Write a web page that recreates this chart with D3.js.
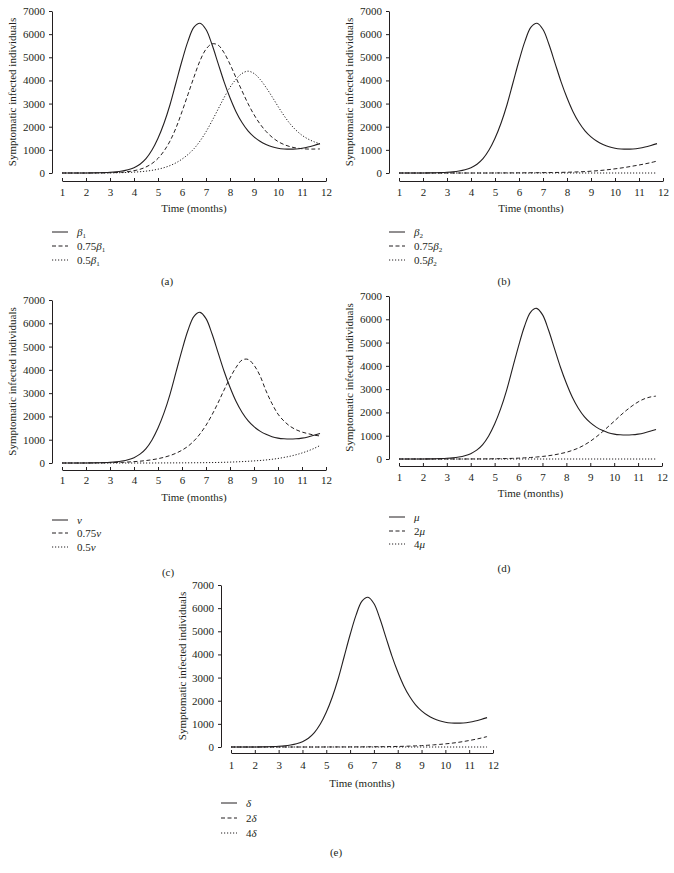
<!DOCTYPE html>
<html><head><meta charset="utf-8">
<script src="https://cdn.jsdelivr.net/npm/d3@7"></script>
<style>
body{margin:0;background:#fff;}
svg text{font-family:"Liberation Serif","Times New Roman",serif !important;fill:#231f20;}
</style></head>
<body>
<svg id="c" width="674" height="873"></svg>
<script>
// ---- data ----
const months = [1,1.25,1.5,1.75,2,2.25,2.5,2.75,3,3.25,3.5,3.75,4,4.25,4.5,4.75,5,5.25,5.5,5.75,6,6.25,6.5,6.75,7,7.25,7.5,7.75,8,8.25,8.5,8.75,9,9.25,9.5,9.75,10,10.25,10.5,10.75,11,11.25,11.5,11.75];
const xTicks = [1,2,3,4,5,6,7,8,9,10,11,12];
const yTicks = [0,1000,2000,3000,4000,5000,6000,7000];
const baseline = [0,0,0,0,2,5,10,18,30,50,85,140,230,380,620,990,1500,2150,2950,3900,4850,5700,6300,6470,6200,5550,4750,3950,3250,2650,2180,1820,1560,1370,1230,1130,1070,1040,1030,1040,1070,1120,1190,1270];
const beta1_075 = [0,0,0,0,0,2,5,8,12,20,35,60,100,160,260,410,630,950,1380,1950,2650,3400,4150,4850,5350,5580,5530,5200,4700,4120,3550,3000,2520,2120,1800,1550,1360,1230,1140,1080,1050,1035,1035,1040];
const beta1_05 = [0,0,0,0,0,0,2,4,6,10,16,25,38,55,80,115,165,230,320,440,600,800,1050,1380,1780,2250,2750,3250,3700,4050,4300,4400,4300,4050,3700,3300,2880,2480,2130,1850,1630,1470,1350,1260];
const beta2_075 = [0,0,0,0,0,0,0,0,0,0,0,0,0,0,0,0,2,3,4,5,6,8,10,12,15,18,22,27,33,40,50,62,78,97,120,148,180,215,255,300,345,395,450,515];
const beta2_05 = [0,0,0,0,0,0,0,0,0,0,0,0,0,0,0,0,0,0,0,0,0,0,0,0,0,0,0,0,0,0,0,0,0,0,0,0,0,0,0,0,0,0,0,0];
const nu_075 = [0,0,0,0,2,4,7,10,15,22,30,42,58,78,105,140,185,245,320,420,550,720,950,1250,1620,2070,2580,3130,3650,4100,4420,4450,4200,3750,3100,2550,2100,1800,1580,1430,1330,1260,1200,1160];
const nu_05 = [0,0,0,0,0,0,0,0,0,0,0,0,0,0,0,0,2,3,4,5,6,8,10,12,15,19,24,30,38,48,60,74,90,108,130,160,195,240,290,355,430,520,625,750];
const mu_2 = [0,0,0,0,0,0,0,0,0,0,0,0,2,3,4,6,10,14,20,27,37,50,65,85,110,140,180,230,290,370,470,600,760,950,1160,1390,1620,1860,2080,2280,2450,2580,2660,2700];
const mu_4 = [0,0,0,0,0,0,0,0,0,0,0,0,0,0,0,0,0,0,0,0,0,0,0,0,0,0,0,0,0,0,0,0,0,0,0,0,0,0,0,0,0,0,0,0];
const delta_2 = [0,0,0,0,0,0,0,0,0,0,0,0,0,0,0,0,2,2,3,3,4,5,6,8,10,12,15,19,24,30,38,48,60,75,92,112,135,162,195,235,280,330,385,450];
const delta_4 = [0,0,0,0,0,0,0,0,0,0,0,0,0,0,0,0,0,0,0,0,0,0,0,0,0,0,0,0,0,0,0,0,0,0,0,0,0,0,0,0,0,0,0,0];
const yTitle = "Symptomatic infected individuals";
const xTitle = "Time (months)";
// legend labels: [prefix, greek symbol, subscript]
const legA = [["","β","1"],["0.75","β","1"],["0.5","β","1"]];
const legB = [["","β","2"],["0.75","β","2"],["0.5","β","2"]];
const legC = [["","ν",""],["0.75","ν",""],["0.5","ν",""]];
const legD = [["","μ",""],["2","μ",""],["4","μ",""]];
const legE = [["","δ",""],["2","δ",""],["4","δ",""]];
const captions = ["(a)","(b)","(c)","(d)","(e)"];

// ---- layout ----
const panels = [
 {series:[baseline,beta1_075,beta1_05], leg:legA, cap:captions[0], ax:52, x0:62, x1:326, yT:11, yB:173, xa:181, tl:196, tt:212, ly:[236,250,264], lx:52, cx:167, cy:285, yt:12},
 {series:[baseline,beta2_075,beta2_05], leg:legB, cap:captions[1], ax:389, x0:399, x1:663, yT:11, yB:173, xa:181, tl:196, tt:212, ly:[236,250,264], lx:389, cx:504, cy:285, yt:349},
 {series:[baseline,nu_075,nu_05], leg:legC, cap:captions[2], ax:52, x0:62, x1:326, yT:300, yB:463, xa:470, tl:484, tt:501, ly:[524,537,551], lx:52, cx:168, cy:576, yt:12},
 {series:[baseline,mu_2,mu_4], leg:legD, cap:captions[3], ax:389, x0:399, x1:662, yT:296, yB:459, xa:466, tl:481, tt:497, ly:[521,535,548], lx:389, cx:504, cy:572, yt:349},
 {series:[baseline,delta_2,delta_4], leg:legE, cap:captions[4], ax:221, x0:231, x1:493, yT:585, yB:747, xa:753, tl:769, tt:787, ly:[807,822,837], lx:221, cx:336, cy:856, yt:182}
];
const dashes = [null,"4,2.5","1.2,1.8"];
const ink = "#231f20";
const FONT = "Liberation Serif";
const svg = d3.select("#c");

panels.forEach(p=>{
  const g = svg.append("g");
  const x = d3.scaleLinear().domain([1,12]).range([p.x0,p.x1]);
  const y = d3.scaleLinear().domain([0,7000]).range([p.yB,p.yT]);
  // y axis
  const ya = g.append("g").attr("transform",`translate(${p.ax},0)`)
    .call(d3.axisLeft(y).tickValues(yTicks).tickFormat(d3.format("d")).tickSizeInner(3).tickSizeOuter(0).tickPadding(4));
  ya.attr("font-family",FONT);
  ya.select(".domain").attr("stroke",ink);
  ya.selectAll("line").attr("stroke",ink);
  ya.selectAll("text").attr("font-size",11).attr("fill",ink);
  // x axis
  const xa = g.append("g").attr("transform",`translate(0,${p.xa})`)
    .call(d3.axisBottom(x).tickValues(xTicks).tickFormat(d3.format("d")).tickSizeInner(-3).tickSizeOuter(0).tickPadding(0));
  xa.attr("font-family",FONT);
  xa.select(".domain").attr("stroke",ink);
  xa.selectAll("line").attr("stroke",ink);
  xa.selectAll("text").attr("font-size",11).attr("fill",ink).attr("dy",null).attr("y",p.tl-p.xa);
  // titles
  g.append("text").attr("x",(p.x0+p.x1)/2).attr("y",p.tt).attr("text-anchor","middle").attr("font-size",11).attr("font-family",FONT).text(xTitle);
  g.append("text").attr("transform",`translate(${p.yt+4},${(p.yT+p.yB)/2}) rotate(-90)`).attr("text-anchor","middle").attr("font-size",11).attr("font-family",FONT).text(yTitle);
  // lines
  const line = d3.line().x((d,i)=>x(months[i])).y(d=>y(d)).curve(d3.curveCatmullRom);
  p.series.forEach((s,k)=>{
    g.append("path").datum(s).attr("d",line).attr("fill","none").attr("stroke",ink)
     .attr("stroke-width",k===0?1.1:1).attr("stroke-dasharray",dashes[k]);
  });
  // legend
  p.leg.forEach((l,k)=>{
    const yy = p.ly[k]-4;
    g.append("line").attr("x1",p.lx).attr("x2",p.lx+16).attr("y1",yy).attr("y2",yy)
      .attr("stroke",ink).attr("stroke-width",1).attr("stroke-dasharray",dashes[k]);
    const t = g.append("text").attr("x",p.lx+25).attr("y",p.ly[k]).attr("font-size",11).attr("font-family",FONT);
    if(l[0]) t.append("tspan").text(l[0]);
    t.append("tspan").attr("font-style","italic").text(l[1]);
    if(l[2]) t.append("tspan").attr("font-size",7).attr("dy",2).text(l[2]);
  });
  g.append("text").attr("x",p.cx).attr("y",p.cy).attr("text-anchor","middle").attr("font-size",11).attr("font-family",FONT).text(p.cap);
});
</script>
</body></html>
